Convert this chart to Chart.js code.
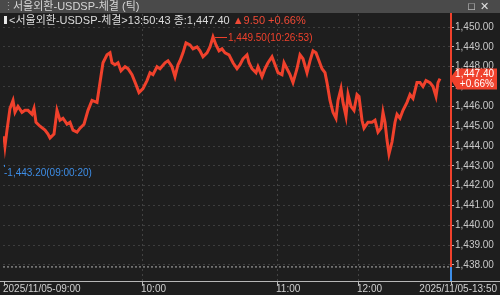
<!DOCTYPE html>
<html>
<head>
<meta charset="utf-8">
<script src="https://cdn.jsdelivr.net/npm/chart.js@4/dist/chart.umd.min.js"></script>
<style>
body { margin: 0; background: #1e1e1e; width: 500px; height: 295px; overflow: hidden; }
#wrap { position: relative; width: 500px; height: 295px; }
#titlebar { position: absolute; left: 0; top: 0; width: 500px; height: 13px; background: #4a4a4a;
  color: #d6d6d6; font: 11px "Liberation Sans", "Noto Sans CJK KR", sans-serif; line-height: 13px; white-space: nowrap; }
#titlebar .grip { position: absolute; left: 3px; top: 0; color: #9a9a9a; }
#titlebar .name { position: absolute; left: 13px; top: 0; }
#titlebar .btns { position: absolute; right: 6px; top: 0; color: #e0e0e0; letter-spacing: 5px; }
#header { position: absolute; left: 4px; top: 14px; height: 12px; color: #dcdcdc; white-space: nowrap;
  font: 11px "Liberation Sans", "Noto Sans CJK KR", sans-serif; line-height: 12px; }
#header .bar { display: inline-block; width: 3px; height: 8px; background: #e8e8e8; margin-right: 2px; }
#header .up { color: #f04a36; }
canvas { position: absolute; left: 0; top: 0; }
</style>
</head>
<body>
<div id="wrap">
  <canvas id="chart" width="500" height="295"></canvas>
  <div id="titlebar"><span class="grip">⋮</span><span class="name">서울외환-USDSP-체결 (틱)</span><span class="btns">□✕</span></div>
  <div id="header"><span class="bar"></span>&lt;서울외환-USDSP-체결&gt;13:50:43 종:1,447.40 <span class="up">▲9.50 +0.66%</span></div>
</div>
<script>
// 틱 순번 (체결 순서)
const tickSeq = [0,1,3,6,9,11,14,18,21,24,28,30,32,36,41,44,46,50,53,56,
  59,63,66,69,73,76,80,84,88,93,96,99,103,106,108,111,114,117,121,124,
  128,132,135,139,143,146,149,153,156,161,164,168,171,174,176,179,182,186,189,193,
  196,199,203,206,209,212,215,218,221,225,229,233,236,239,243,245,248,252,254,258,
  261,264,268,271,274,278,280,283,286,289,293,296,299,303,306,309,312,315,318,321,
  323,326,329,332,334,337,339,342,344,347,350,353,355,358,360,364,368,371,374,377,
  379,381,383,385,388,391,393,396,399,403,406,409,413,416,419,422,426,429,432,434,436];

// 체결가
const prices = [1444.5,1444.0,1444.8,1445.9,1446.3,1445.7,1446.0,1445.7,1445.8,1445.8,
  1445.6,1445.9,1445.2,1445.0,1444.8,1444.6,1444.4,1444.6,1445.8,1445.3,
  1445.4,1445.1,1445.2,1444.8,1444.7,1444.9,1445.1,1445.8,1446.3,1446.2,
  1447.2,1448.2,1448.6,1448.7,1448.2,1448.1,1448.2,1447.8,1448.0,1447.9,
  1447.6,1447.1,1446.7,1446.9,1447.3,1447.7,1447.6,1448.0,1447.9,1448.2,
  1448.3,1448.0,1447.5,1448.1,1448.3,1448.7,1449.2,1449.1,1448.9,1449.0,
  1448.8,1448.5,1448.7,1449.0,1449.5,1449.1,1448.8,1448.9,1448.7,1448.6,
  1448.2,1447.9,1448.1,1448.4,1448.6,1448.2,1447.9,1447.7,1448.0,1447.5,
  1447.9,1448.2,1448.5,1448.1,1447.7,1447.6,1448.2,1447.9,1447.6,1447.2,
  1447.9,1448.6,1448.4,1447.7,1448.3,1448.8,1448.7,1448.3,1447.9,1447.7,
  1447.2,1446.3,1445.7,1445.4,1446.3,1446.9,1446.2,1445.5,1446.6,1446.0,
  1445.8,1446.6,1446.5,1445.3,1444.9,1445.2,1445.2,1445.3,1444.7,1444.9,
  1445.7,1445.2,1444.3,1443.6,1444.2,1445.2,1445.6,1445.4,1445.8,1446.2,
  1446.6,1446.4,1447.2,1447.2,1447.0,1447.3,1447.2,1447.0,1446.5,1447.2,1447.4];

// 축 눈금
const xTicks = [0, 138, 273, 354, 447];
const xTickLabels = ['2025/11/05-09:00', '10:00', '11:00', '12:00', '2025/11/05-13:50'];
const yTicks = [1438, 1439, 1440, 1441, 1442, 1443, 1444, 1445, 1446, 1447, 1448, 1449, 1450];

// 기준가 / 현재가 / 고가 / 저가
const prevClose = 1437.9;
const lastPrice = 1447.4;
const lastChangePct = 0.66;
const highPoint = { seq: 209, price: 1449.5, time: '10:26:53' };
const lowPoint = { seq: 0, price: 1443.2, time: '09:00:20' };

const UP = '#f0412c';
const DOWN = '#3d8ee8';
const FONT = '"Liberation Sans", "Noto Sans CJK KR", sans-serif';

function fmt(v) {
    return v.toLocaleString('en-US', { minimumFractionDigits: 2, maximumFractionDigits: 2 });
}

// 축 라벨, 고가/저가 표시, 현재가 박스
const overlayPlugin = {
    id: 'overlay',
    afterDraw(chart) {
        const { ctx, chartArea: a, scales: { x, y } } = chart;
        ctx.save();

        // 기준가 아래쪽 축선은 파란색
        const yPrev = y.getPixelForValue(prevClose);
        ctx.strokeStyle = DOWN;
        ctx.lineWidth = 2;
        ctx.beginPath();
        ctx.moveTo(a.right, yPrev);
        ctx.lineTo(a.right, a.bottom);
        ctx.stroke();

        // x축 기준선
        ctx.strokeStyle = '#b8b8b8';
        ctx.lineWidth = 1;
        ctx.beginPath();
        ctx.moveTo(0, a.bottom + 0.5);
        ctx.lineTo(chart.width, a.bottom + 0.5);
        ctx.stroke();

        // x축 라벨
        ctx.font = '10px ' + FONT;
        ctx.fillStyle = '#d0d0d0';
        ctx.textBaseline = 'middle';
        xTicks.forEach((v, i) => {
            const px = x.getPixelForValue(v);
            if (i === xTicks.length - 1) {
                ctx.textAlign = 'right';
                ctx.fillText(xTickLabels[i], chart.width - 3, a.bottom + 8);
            } else {
                ctx.textAlign = 'left';
                ctx.fillText(xTickLabels[i], px - 1, a.bottom + 8);
            }
        });

        // 고가
        ctx.textAlign = 'left';
        const hx = x.getPixelForValue(highPoint.seq);
        const hy = y.getPixelForValue(highPoint.price);
        ctx.strokeStyle = UP;
        ctx.beginPath();
        ctx.moveTo(hx + 2, hy + 0.5);
        ctx.lineTo(hx + 14, hy + 0.5);
        ctx.stroke();
        ctx.fillStyle = UP;
        ctx.fillText(fmt(highPoint.price) + '(' + highPoint.time + ')', hx + 15, hy + 1);

        // 저가
        const lx = x.getPixelForValue(lowPoint.seq);
        const ly = y.getPixelForValue(lowPoint.price);
        ctx.fillStyle = DOWN;
        ctx.fillRect(lx, ly + 3, 1, 2);
        ctx.fillText('-' + fmt(lowPoint.price) + '(' + lowPoint.time + ')', lx, ly + 11);

        // 현재가 박스
        const cy = y.getPixelForValue(lastPrice);
        ctx.fillStyle = UP;
        ctx.beginPath();
        ctx.moveTo(a.right - 1, cy);
        ctx.lineTo(a.right + 6, cy - 10);
        ctx.lineTo(chart.width - 3, cy - 10);
        ctx.lineTo(chart.width - 3, cy + 11);
        ctx.lineTo(a.right + 6, cy + 11);
        ctx.closePath();
        ctx.fill();
        ctx.fillStyle = '#ffffff';
        ctx.textAlign = 'right';
        ctx.fillText(fmt(lastPrice), chart.width - 6, cy - 4);
        ctx.fillText('+' + lastChangePct.toFixed(2) + '%', chart.width - 6, cy + 6);

        ctx.restore();
    }
};

const chart = new Chart(document.getElementById('chart'), {
    type: 'line',
    data: {
        datasets: [{
            data: tickSeq.map((s, i) => ({ x: s, y: prices[i] })),
            borderColor: UP,
            borderWidth: 3,
            pointRadius: 0,
            tension: 0,
            order: 1
        }, {
            data: [{ x: -1, y: prevClose }, { x: 447, y: prevClose }],
            borderColor: '#b0b0b0',
            borderWidth: 1,
            borderDash: [2, 2],
            pointRadius: 0,
            order: 2
        }]
    },
    options: {
        responsive: false,
        animation: false,
        events: [],
        layout: { padding: { left: 3, top: 14, right: 0, bottom: 0 } },
        plugins: { legend: { display: false }, tooltip: { enabled: false } },
        scales: {
            x: {
                type: 'linear',
                min: -1,
                max: 447,
                afterBuildTicks: s => { s.ticks = xTicks.map(v => ({ value: v })); },
                afterFit: s => { s.height = 14; },
                ticks: { display: false },
                border: { display: false, dash: [2, 3] },
                grid: {
                    color: c => (c.index === 0 || c.index === xTicks.length - 1) ? 'rgba(0,0,0,0)' : 'rgba(255,255,255,0.16)',
                    tickColor: '#b8b8b8',
                    tickLength: 4,
                    tickBorderDash: []
                }
            },
            y: {
                position: 'right',
                min: 1437.19,
                max: 1450.66,
                afterBuildTicks: s => { s.ticks = yTicks.map(v => ({ value: v })); },
                afterFit: s => { s.width = 49; },
                ticks: {
                    color: '#c8c8c8',
                    font: { size: 10, family: FONT },
                    padding: 1,
                    callback: v => fmt(v)
                },
                border: { color: UP, width: 2, dash: [2, 3] },
                grid: {
                    color: 'rgba(255,255,255,0.14)',
                    tickColor: '#b8b8b8',
                    tickLength: 3,
                    tickBorderDash: []
                }
            }
        }
    },
    plugins: [overlayPlugin]
});
</script>
</body>
</html>
